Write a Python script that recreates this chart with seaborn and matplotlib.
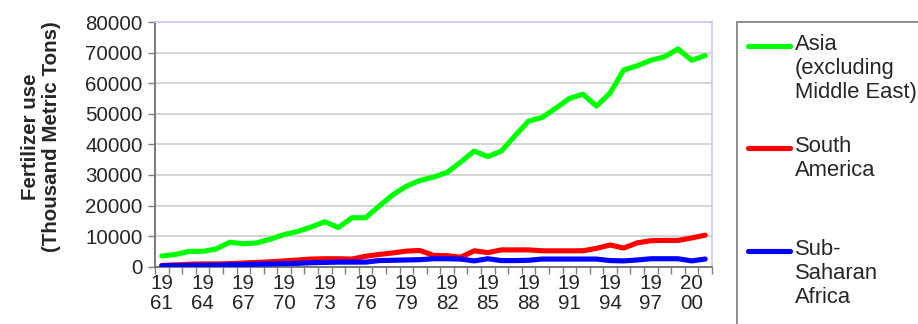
import numpy as np
import pandas as pd
import matplotlib
matplotlib.use("Agg")
import matplotlib.pyplot as plt
from matplotlib.lines import Line2D
from matplotlib.patches import Rectangle
import seaborn as sns

# Fertilizer use by region, thousand metric tons, 1961-2001
years = list(range(1961, 2002))
asia = [3500, 4000, 5000, 5000, 5800, 8000, 7500, 7800, 9000, 10500,
        11500, 13000, 14700, 12800, 16000, 16000, 19800, 23500, 26300, 28200,
        29300, 30800, 34200, 37800, 36000, 37800, 42800, 47600, 48800, 51800,
        55000, 56400, 52500, 56800, 64300, 65700, 67500, 68600, 71200, 67500,
        69000]
south_america = [400, 600, 800, 900, 900, 1000, 1200, 1400, 1600, 1900,
                 2200, 2500, 2600, 2600, 2500, 3400, 4000, 4500, 5100, 5300,
                 3700, 3600, 3100, 5200, 4600, 5500, 5500, 5500, 5200, 5200,
                 5200, 5200, 6000, 7100, 6100, 7800, 8500, 8600, 8600, 9400,
                 10300]
sub_saharan = [300, 350, 400, 450, 500, 600, 700, 800, 900, 1000,
               1100, 1300, 1400, 1500, 1500, 1500, 2000, 2100, 2200, 2300,
               2600, 2600, 2500, 1900, 2600, 2000, 2000, 2100, 2500, 2500,
               2500, 2500, 2500, 2000, 1900, 2200, 2600, 2600, 2600, 1900,
               2500]

series_names = ["Asia", "South America", "Sub-Saharan Africa"]
legend_labels = ["Asia\n(excluding\nMiddle East)", "South\nAmerica", "Sub-\nSaharan\nAfrica"]
colors = ["#00ff00", "#ff0000", "#0000ff"]
y_ticks = list(range(0, 80001, 10000))
y_label = "Fertilizer use\n(Thousand Metric Tons)"

idx = np.arange(len(years))
df = pd.DataFrame({
    "pos": np.tile(idx, 3),
    "value": asia + south_america + sub_saharan,
    "region": np.repeat(series_names, len(years)),
})

sns.set_style("white")
plt.rcParams["font.family"] = ["Liberation Sans", "DejaVu Sans"]

W, H = 918, 324
fig = plt.figure(figsize=(W / 100, H / 100), dpi=100)
left, right, top, bottom = 155, 712, 22, 266.7
ax = fig.add_axes([left / W, 1 - bottom / H, (right - left) / W, (bottom - top) / H])

sns.lineplot(data=df, x="pos", y="value", hue="region", palette=colors,
             linewidth=3.7, legend=False, ax=ax, zorder=3)

ax.set_xlim(-0.5, len(years) - 0.5)
ax.set_ylim(0, 80000)

# horizontal gridlines
ax.set_yticks(y_ticks)
ax.yaxis.grid(True, color="#d2d2d2", linewidth=1.3, zorder=0)
ax.xaxis.grid(False)
ax.set_yticklabels([str(v) for v in y_ticks], fontsize=14.8)
ax.tick_params(axis="y", which="major", direction="out", length=5, width=1,
               color="#808080", pad=4, left=True)

# category labels every third year, tick marks on category boundaries
lab_pos = idx[::3]
ax.set_xticks(lab_pos)
ax.set_xticklabels([f"{str(y)[:2]}\n{str(y)[2:]}" for y in years[::3]],
                   fontsize=14.8, linespacing=1.1)
ax.tick_params(axis="x", which="major", length=0, pad=5)
ax.set_xticks(np.arange(-0.5, len(years), 1), minor=True)
ax.tick_params(axis="x", which="minor", direction="out", length=5, width=1,
               color="#808080", bottom=True)
ax.set_xlabel("")
ax.set_ylabel("")

for side in ("top", "right"):
    ax.spines[side].set_color("#c8c8f5")
    ax.spines[side].set_linewidth(1.2)
for side in ("left", "bottom"):
    ax.spines[side].set_color("#6e6e78")
    ax.spines[side].set_linewidth(1.3)

fig.text(41 / W, 1 - 137 / H, y_label, rotation=90, ha="center", va="center",
         fontsize=14.8, fontweight="bold", linespacing=1.1)

# legend panel
fig.add_artist(Rectangle((737 / W, -0.1), 1.0, 1 - 22 / H + 0.1,
                         transform=fig.transFigure, facecolor="white",
                         edgecolor="#7a7a7a", linewidth=1.2))
entry_y = [46, 148, 251]
for lab, col, yy in zip(legend_labels, colors, entry_y):
    fy = 1 - yy / H
    fig.add_artist(Line2D([748 / W, 790 / W], [fy, fy], color=col,
                          linewidth=3.7, transform=fig.transFigure))
    fig.text(795 / W, 1 - (yy - 12) / H, lab, ha="left", va="top",
             fontsize=15.8, linespacing=1.2)

fig.savefig("out.png", dpi=100)
